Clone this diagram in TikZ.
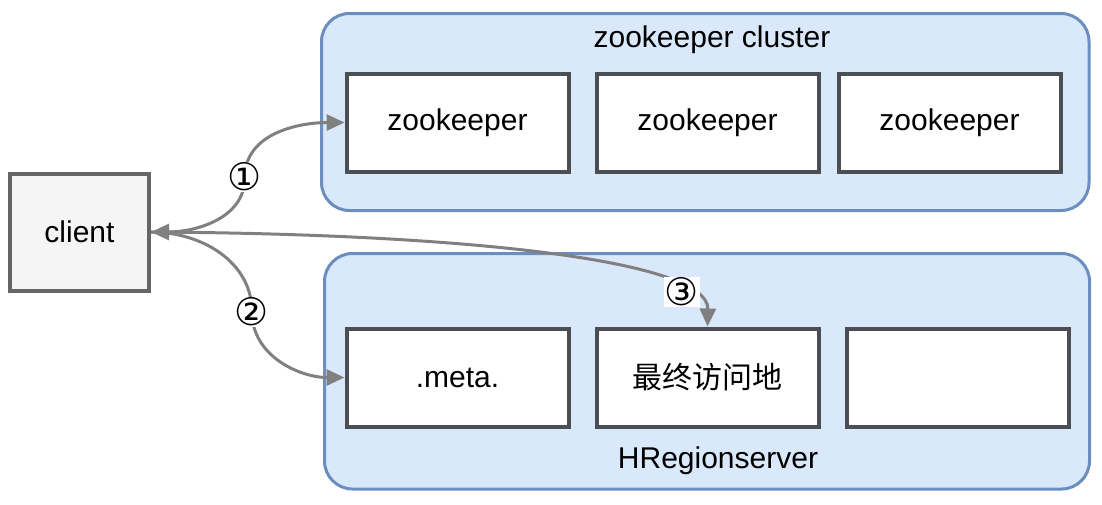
\documentclass[tikz,border=0pt]{standalone}
\usepackage{fontspec}
\setmainfont{Liberation Sans}
\newfontfamily\cjkfont{Noto Sans CJK SC}
\newfontfamily\symfont{DejaVu Sans}
\usetikzlibrary{arrows.meta}
\definecolor{contfill}{HTML}{DAE8FC}
\definecolor{contdraw}{HTML}{6C8EBF}
\definecolor{boxdraw}{HTML}{4B4F53}
\definecolor{clientfill}{HTML}{F5F5F5}
\definecolor{clientdraw}{HTML}{666666}
\definecolor{arrowgray}{HTML}{808080}
\begin{document}
\begin{tikzpicture}[x=1pt,y=-1pt,
  container/.style={draw=contdraw,fill=contfill,line width=3pt,rounded corners=28pt},
  innerbox/.style={draw=boxdraw,fill=white,line width=4pt,minimum width=222pt,minimum height=98pt,inner sep=0pt,font=\fontsize{30}{34}\selectfont},
  clientbox/.style={draw=clientdraw,fill=clientfill,line width=4pt,minimum width=139pt,minimum height=117pt,inner sep=0pt,font=\fontsize{30}{34}\selectfont},
  conn/.style={draw=arrowgray,line width=3pt,-{Triangle[length=18pt,width=16pt]}},
  numlabel/.style={fill=white,inner sep=1pt,font=\symfont\fontsize{38}{40}\selectfont},
  title/.style={font=\fontsize{30}{34}\selectfont}
]
\useasboundingbox (0,0) rectangle (1102,504);
\fill[white] (0,0) rectangle (1102,504);
% containers
\draw[container] (321.5,13.5) rectangle (1089,210.5);
\node[title] (zkc) at (712,40) {zookeeper cluster};
\draw[container] (324.5,253.5) rectangle (1089.5,489);
\node[title] (hrs) at (718,461) {HRegionserver};
% inner boxes
\node[innerbox] (zk1) at (457.5,122.5) {zookeeper};
\node[innerbox] (zk2) at (707.5,122.5) {zookeeper};
\node[innerbox] (zk3) at (949.5,122.5) {zookeeper};
\node[innerbox] (meta) at (457.5,377.5) {.meta.};
\node[innerbox] (dest) at (707.5,377.5) {\cjkfont 最终访问地};
\node[innerbox] (empty) at (957.5,377.5) {};
% client
\node[clientbox] (client) at (79.5,232) {client};
% connectors
\draw[conn,{Triangle[length=18pt,width=16pt]}-{Triangle[length=18pt,width=16pt]}] (client.east) to[out=0,in=-90] (245,177) node[numlabel] (n1) {①} to[out=90,in=180] (zk1.west);
\draw[conn] (client.east) to[out=0,in=90] (252,312) node[numlabel] (n2) {②} to[out=-90,in=180] (meta.west);
\draw[conn] (client.east) .. controls (480,234) and (709,262) .. (dest.north) node[numlabel,pos=0.8] (n3) {③};
\end{tikzpicture}
\end{document}
